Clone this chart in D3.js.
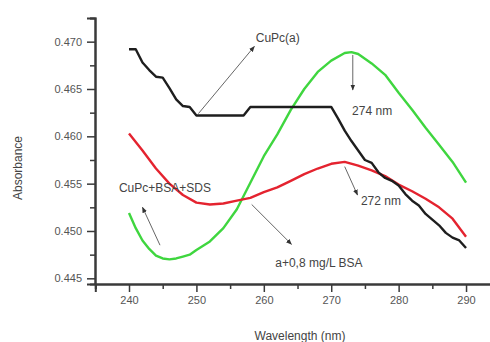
<!DOCTYPE html>
<html>
<head>
<meta charset="utf-8">
<script src="https://cdn.jsdelivr.net/npm/d3@7"></script>
<style>
  body { margin: 0; background: #fff; }
  text { font-family: "Liberation Sans", Arial, sans-serif; }
</style>
</head>
<body>
<div id="chart"></div>
<script>
// data (wavelength nm / absorbance)
var blackWl = [240, 241, 242, 243, 244, 245, 246, 247, 248, 249, 250, 251, 252, 253, 254, 255, 256, 257, 258, 260, 262, 264, 266, 268, 270, 271, 272, 273, 274, 275, 276, 277, 278, 279, 280, 281, 282, 283, 284, 285, 286, 287, 288, 289, 290];
var blackAbs = [0.4692, 0.4692, 0.4678, 0.4670, 0.4663, 0.4662, 0.4651, 0.4639, 0.4632, 0.4631, 0.4622, 0.4622, 0.4622, 0.4622, 0.4622, 0.4622, 0.4622, 0.4622, 0.4631, 0.4631, 0.4631, 0.4631, 0.4631, 0.4631, 0.4631, 0.4619, 0.4606, 0.4595, 0.4585, 0.4575, 0.4572, 0.4562, 0.4556, 0.4553, 0.4548, 0.4539, 0.4532, 0.4527, 0.4518, 0.4512, 0.4506, 0.4498, 0.4493, 0.4490, 0.4482];

var redWl = [240, 242, 244, 246, 248, 250, 252, 254, 256, 258, 260, 262, 264, 266, 268, 270, 272, 274, 276, 278, 280, 282, 284, 286, 288, 290];
var redAbs = [0.4603, 0.4585, 0.4566, 0.4550, 0.4538, 0.4530, 0.4528, 0.4529, 0.4532, 0.4535, 0.4541, 0.4546, 0.4553, 0.4560, 0.4566, 0.4571, 0.4573, 0.4569, 0.4564, 0.4558, 0.4549, 0.4542, 0.4534, 0.4525, 0.4513, 0.4494];

var greenWl = [240, 241, 242, 243, 244, 245, 246, 247, 248, 249, 250, 252, 254, 256, 258, 260, 262, 264, 266, 268, 270, 272, 273, 274, 276, 278, 280, 282, 284, 286, 288, 290];
var greenAbs = [0.4519, 0.4503, 0.4490, 0.4481, 0.4474, 0.4471, 0.4470, 0.4471, 0.4473, 0.4475, 0.4480, 0.4489, 0.4503, 0.4523, 0.4551, 0.4579, 0.4602, 0.4628, 0.4650, 0.4668, 0.4680, 0.4688, 0.4689, 0.4687, 0.4677, 0.4665, 0.4646, 0.4628, 0.4609, 0.4591, 0.4573, 0.4551];

var xMajor = [240, 250, 260, 270, 280, 290];
var xMinor = [235, 245, 255, 265, 275, 285];
var yMajor = [0.445, 0.450, 0.455, 0.460, 0.465, 0.470];
var yMinor = [0.4475, 0.4525, 0.4575, 0.4625, 0.4675, 0.4725];

// annotations: text and arrows in data units
var notes = [
  {text: 'CuPc(a)', at: [258.8, 0.4700], from: [250.3, 0.4624], to: [258.6, 0.4695]},
  {text: '274 nm', at: [273.1, 0.4623], from: [273.2, 0.4686], to: [273.2, 0.4649]},
  {text: '272 nm', at: [274.4, 0.4527], from: [272.0, 0.4568], to: [273.9, 0.4538]},
  {text: 'CuPc+BSA+SDS', at: [238.5, 0.4541], from: [244.6, 0.4485], to: [242.0, 0.4525]},
  {text: 'a+0,8 mg/L BSA', at: [261.7, 0.4462], from: [258.2, 0.4528], to: [264.1, 0.4486]}
];

var W = 490, H = 342;
var svg = d3.select('#chart').append('svg')
  .attr('width', W)
  .attr('height', H);

var x = d3.scaleLinear().domain([235, 294]).range([95.3, 493]);
var y = d3.scaleLinear().domain([0.4444, 0.4725]).range([284, 18]);

svg.append('defs').append('marker')
  .attr('id', 'arrow')
  .attr('viewBox', '0 -5 10 10')
  .attr('refX', 9)
  .attr('refY', 0)
  .attr('markerWidth', 6)
  .attr('markerHeight', 6)
  .attr('orient', 'auto')
  .append('path')
    .attr('d', 'M0,-4L10,0L0,4Z')
    .attr('fill', '#333');

////////////////////////
// axes
////////////////////////
var axisColor = '#3a3a3a';

var xMin = svg.append('g')
  .attr('transform', 'translate(0,' + 284 + ')')
  .call(d3.axisBottom(x).tickValues(xMinor).tickSize(5).tickFormat(''));
var xMaj = svg.append('g')
  .attr('transform', 'translate(0,' + 284 + ')')
  .call(d3.axisBottom(x).tickValues(xMajor).tickSize(8).tickPadding(4).tickFormat(d3.format('d')));

var yMin = svg.append('g')
  .attr('transform', 'translate(95,0)')
  .call(d3.axisLeft(y).tickValues(yMinor).tickSize(5).tickFormat(''));
var yMaj = svg.append('g')
  .attr('transform', 'translate(95,0)')
  .call(d3.axisLeft(y).tickValues(yMajor).tickSize(8).tickPadding(5).tickFormat(d3.format('.3f')));

[xMin, xMaj, yMin, yMaj].forEach(function(g) {
  g.select('.domain').attr('stroke', axisColor).attr('stroke-width', 2);
  g.selectAll('.tick line').attr('stroke', axisColor).attr('stroke-width', 1.5);
  g.selectAll('.tick text')
    .attr('fill', '#555')
    .style('font-size', '11px')
    .style('font-family', '"Liberation Sans", Arial, sans-serif');
});

svg.append('text')
  .attr('x', 300)
  .attr('y', 340)
  .attr('text-anchor', 'middle')
  .attr('fill', '#444')
  .style('font-size', '12px')
  .text('Wavelength (nm)');

svg.append('text')
  .attr('transform', 'translate(22,168) rotate(-90)')
  .attr('text-anchor', 'middle')
  .attr('fill', '#444')
  .style('font-size', '12px')
  .text('Absorbance');

////////////////////////
// curves
////////////////////////
var line = d3.line()
  .x(function(d) { return x(d[0]); })
  .y(function(d) { return y(d[1]); });

var series = [
  {wl: greenWl, abs: greenAbs, color: '#3fd63f'},
  {wl: redWl, abs: redAbs, color: '#e4232f'},
  {wl: blackWl, abs: blackAbs, color: '#1e1e1e'}
];

svg.selectAll('path.curve')
  .data(series)
  .enter().append('path')
  .attr('class', 'curve')
  .attr('d', function(s) { return line(d3.zip(s.wl, s.abs)); })
  .attr('fill', 'none')
  .attr('stroke', function(s) { return s.color; })
  .attr('stroke-width', 2.4)
  .attr('stroke-linejoin', 'round');

////////////////////////
// annotations
////////////////////////
svg.selectAll('line.note')
  .data(notes)
  .enter().append('line')
  .attr('class', 'note')
  .attr('x1', function(d) { return x(d.from[0]); })
  .attr('y1', function(d) { return y(d.from[1]); })
  .attr('x2', function(d) { return x(d.to[0]); })
  .attr('y2', function(d) { return y(d.to[1]); })
  .attr('stroke', '#666')
  .attr('stroke-width', 1)
  .attr('marker-end', 'url(#arrow)');

svg.selectAll('text.note')
  .data(notes)
  .enter().append('text')
  .attr('class', 'note')
  .attr('x', function(d) { return x(d.at[0]); })
  .attr('y', function(d) { return y(d.at[1]); })
  .attr('fill', '#444')
  .style('font-size', '12px')
  .text(function(d) { return d.text; });
</script>
</body>
</html>
